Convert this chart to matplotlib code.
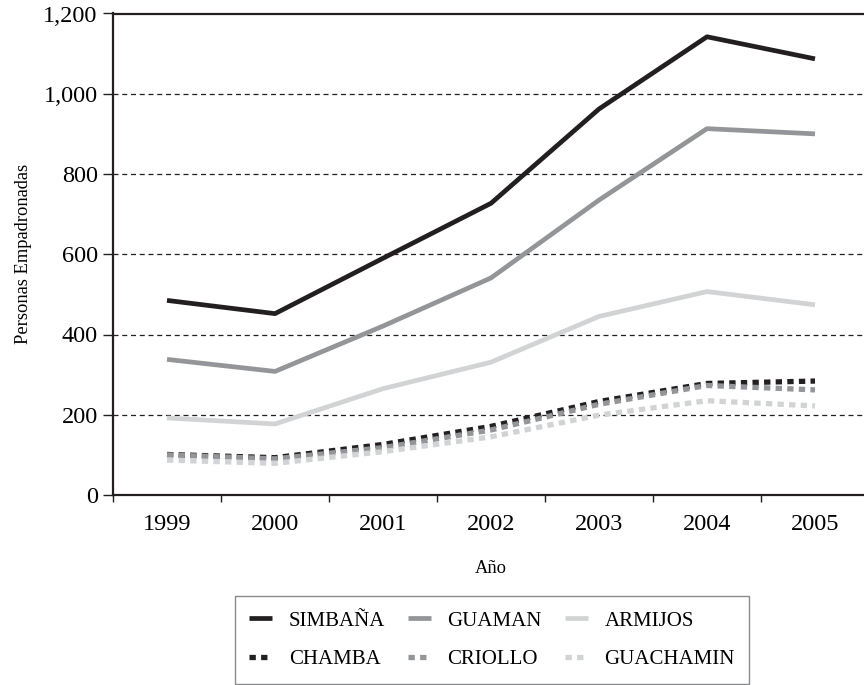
import matplotlib
matplotlib.use("Agg")
import matplotlib.pyplot as plt

years = ["1999", "2000", "2001", "2002", "2003", "2004", "2005"]
simbana = [485, 452, 590, 727, 962, 1142, 1087]
guaman = [338, 308, 421, 541, 735, 913, 900]
armijos = [192, 177, 265, 331, 445, 507, 474]
chamba = [101, 93, 126, 171, 233, 278, 284]
criollo = [100, 90, 118, 162, 226, 273, 262]
guachamin = [87, 79, 108, 145, 199, 235, 222]

names = ["SIMBAÑA", "GUAMAN", "ARMIJOS", "CHAMBA", "CRIOLLO", "GUACHAMIN"]
series = [simbana, guaman, armijos, chamba, criollo, guachamin]
colors = ["#231f20", "#939598", "#d1d3d4", "#231f20", "#939598", "#d1d3d4"]
solid = [True, True, True, False, False, False]

plt.rcParams['font.family'] = ['Liberation Serif', 'DejaVu Serif']

fig = plt.figure(figsize=(8.64, 6.85), dpi=100)
ax = fig.add_axes([113/864, 1-495/685, 756/864, (495-13.5)/685])

x = list(range(len(years)))
handles = {}
for name, vals, c, s in zip(names, series, colors, solid):
    if s:
        ln, = ax.plot(x, vals, color=c, lw=3.4, solid_capstyle='butt', zorder=3)
    else:
        ln, = ax.plot(x, vals, color=c, lw=3.8, linestyle=(0, (1.2, 1.0)),
                      dash_capstyle='butt', zorder=3)
    handles[name] = ln

ax.set_xlim(-0.5, len(years) - 0.5)
ax.set_ylim(0, 1200)
ax.set_yticks(range(0, 1201, 200))
ax.set_yticklabels([f"{v:,}" for v in range(0, 1201, 200)], fontsize=17.5)
ax.set_xticks(x)
ax.set_xticklabels(years, fontsize=17.5)
ax.set_xticks([i - 0.5 for i in range(len(years) + 1)], minor=True)
ax.tick_params(axis='x', which='major', length=0, pad=14)
ax.tick_params(axis='x', which='minor', length=5, width=1, color='#231f20')
ax.tick_params(axis='y', length=7, width=1, color='#231f20', pad=4)

for v in range(200, 1201, 200):
    if v < 1200:
        ax.axhline(v, color='#231f20', lw=0.9, linestyle=(0, (4, 3)), zorder=1)

for sp in ax.spines.values():
    sp.set_linewidth(1.6)
    sp.set_color('#231f20')

ax.set_ylabel("Personas Empadronadas", fontsize=13.3, labelpad=8)
ax.set_xlabel("Año", fontsize=13.3, labelpad=18)

order = ["SIMBAÑA", "CHAMBA", "GUAMAN", "CRIOLLO", "ARMIJOS", "GUACHAMIN"]
leg = fig.legend([handles[n] for n in order], order, loc='center',
                 bbox_to_anchor=(492/864, 1-640/685), ncol=3, fontsize=15,
                 frameon=True, fancybox=False, handlelength=1.1,
                 columnspacing=1.1, handletextpad=0.8, labelspacing=0.9,
                 borderpad=0.7, borderaxespad=0)
leg.get_frame().set_edgecolor('#6d6e71')
leg.get_frame().set_linewidth(1.0)

fig.savefig("out.png", dpi=100)
